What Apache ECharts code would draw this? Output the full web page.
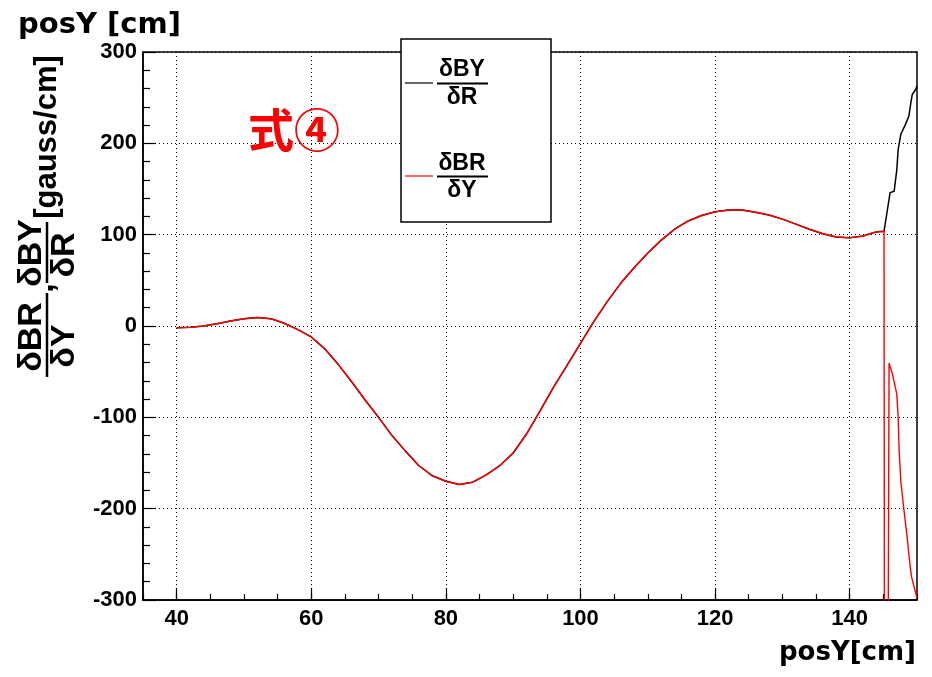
<!DOCTYPE html>
<html>
<head>
<meta charset="utf-8">
<script src="https://cdn.jsdelivr.net/npm/echarts@6/dist/echarts.min.js"></script>
<style>
  html, body { margin: 0; padding: 0; background: #fff; }
  #main { width: 932px; height: 677px; }
</style>
</head>
<body>
<div id="main"></div>
<script>
// both curves lie on top of each other up to ~145 cm
var posYCommon = [40, 42, 44, 46, 48, 50, 52, 54, 56, 58, 60, 62, 64, 66, 68, 70, 72, 74, 76, 78, 80, 82, 84, 86, 88, 90, 92, 94, 96, 98, 100, 102, 104, 106, 108, 110, 112, 114, 116, 118, 120, 122, 124, 126, 128, 130, 132, 134, 136, 138, 140, 142, 143.4, 144.5, 145.1];
var fieldCommon = [-2, -1.5, 0, 2.5, 5.5, 8, 9.3, 8, 3, -4, -12, -25, -42, -61, -81, -100, -120, -137, -153, -164, -170, -173.5, -171, -163, -153, -139, -118, -93, -67, -43, -19, 5, 27, 47, 64, 80, 94, 106, 115, 121, 125, 127, 127, 124.5, 121.5, 117, 111.5, 106, 101, 97.5, 96.5, 98.5, 102, 103.5, 103.5];

// dBY/dR end (black)
var posYTailBY = [145.2, 145.6, 146.0, 146.6, 147.0, 147.2, 147.6, 148.3, 148.8, 149.1, 149.3, 149.8, 150];
var dBYdRTail = [104, 127, 146, 147.5, 171, 193, 210, 221, 230, 245, 253.5, 259, 263];

// dBR/dY end (red), drops far below the frame and comes back
var posYTailBR = [145.2, 145.6, 145.85, 146.35, 147.0, 147.2, 147.35, 147.6, 148.0, 148.5, 149.0, 149.2, 150];
var dBRdYTail = [-600, -600, -40.6, -52.7, -74.6, -100, -137, -170, -197.6, -229, -264.5, -275, -298];

var xLabels = [40, 60, 80, 100, 120, 140];

function pairs(xs, ys) {
  var out = [];
  for (var i = 0; i < xs.length; i++) out.push([xs[i], ys[i]]);
  return out;
}

var blackData = pairs(posYCommon, fieldCommon).concat(pairs(posYTailBY, dBYdRTail));
var redData = pairs(posYCommon, fieldCommon).concat(pairs(posYTailBR, dBRdYTail));

var chart = echarts.init(document.getElementById('main'));
var tickFont = { fontSize: 22, fontWeight: 'bold', fontFamily: 'Liberation Sans', color: '#000' };
var titleFont = 'DejaVu Sans';
var fracFont = 'Liberation Sans';

var option = {
  animation: false,
  backgroundColor: '#fff',
  grid: { left: 143, right: 15, top: 52, bottom: 77, show: true, borderColor: '#000', borderWidth: 1.5 },
  xAxis: [{
    type: 'value', min: 35, max: 150,
    axisLine: { show: true, onZero: false, lineStyle: { color: '#000', width: 1.5 } },
    axisTick: { show: true, inside: true, length: 12, customValues: xLabels, lineStyle: { color: '#000', width: 1.2 } },
    axisLabel: Object.assign({ customValues: xLabels, margin: 8 }, tickFont),
    splitLine: { show: true, lineStyle: { color: '#000', type: [1, 3], width: 1 } }
  }, {
    type: 'value', min: 35, max: 150, interval: 5, position: 'bottom',
    axisLine: { show: false, onZero: false },
    axisTick: { show: true, inside: true, length: 6, lineStyle: { color: '#000', width: 1.2 } },
    axisLabel: { show: false },
    splitLine: { show: false }
  }],
  yAxis: {
    type: 'value', min: -300, max: 300, interval: 100,
    axisLine: { show: true, onZero: false, lineStyle: { color: '#000', width: 1.5 } },
    axisTick: { show: true, inside: true, length: 13, lineStyle: { color: '#000', width: 1.2 } },
    minorTick: { show: true, splitNumber: 5, length: 7, lineStyle: { color: '#000', width: 1.2 } },
    axisLabel: Object.assign({ margin: 6 }, tickFont),
    splitLine: { show: true, lineStyle: { color: '#000', type: [1, 3], width: 1 } }
  },
  series: [{
    name: 'dBY/dR', type: 'line', data: blackData, showSymbol: false,
    lineStyle: { color: '#000', width: 1.5 }, z: 2
  }, {
    name: 'dBR/dY', type: 'line', data: redData, showSymbol: false,
    lineStyle: { color: '#ff0000', width: 1.4 }, z: 3
  }],
  graphic: [
    { type: 'text', left: 18, top: 11, style: { text: 'posY [cm]', fontSize: 29, fontWeight: 'bold', fontFamily: titleFont, fill: '#000' } },
    { type: 'text', x: 916, y: 653, style: { text: 'posY[cm]', fontSize: 26, fontWeight: 'bold', fontFamily: titleFont, fill: '#000', textAlign: 'right', textVerticalAlign: 'middle' } },
    { type: 'text', x: 294, y: 130, z: 10, style: { text: '式④', fontSize: 46, fontWeight: 'bold', fontFamily: 'Noto Sans CJK SC', fill: '#ff0000', textAlign: 'center', textVerticalAlign: 'middle' } },
    // y axis title, rotated to read bottom-to-top
    {
      type: 'group', x: 0, y: 377, rotation: Math.PI / 2, z: 10,
      children: [
        { type: 'text', x: 40, y: 32, style: { text: 'δBR', fontSize: 34, fontWeight: 'bold', fontFamily: fracFont, fill: '#000', textAlign: 'center', textVerticalAlign: 'middle' } },
        { type: 'line', shape: { x1: 0, y1: 47, x2: 84, y2: 47 }, style: { stroke: '#000', lineWidth: 2.5 } },
        { type: 'text', x: 31, y: 65, style: { text: 'δY', fontSize: 34, fontWeight: 'bold', fontFamily: fracFont, fill: '#000', textAlign: 'center', textVerticalAlign: 'middle' } },
        { type: 'text', x: 89, y: 44, style: { text: ',', fontSize: 34, fontWeight: 'bold', fontFamily: fracFont, fill: '#000', textAlign: 'center', textVerticalAlign: 'middle' } },
        { type: 'text', x: 124, y: 32, style: { text: 'δBY', fontSize: 34, fontWeight: 'bold', fontFamily: fracFont, fill: '#000', textAlign: 'center', textVerticalAlign: 'middle' } },
        { type: 'line', shape: { x1: 94, y1: 47, x2: 155, y2: 47 }, style: { stroke: '#000', lineWidth: 2.5 } },
        { type: 'text', x: 122, y: 65, style: { text: 'δR', fontSize: 34, fontWeight: 'bold', fontFamily: fracFont, fill: '#000', textAlign: 'center', textVerticalAlign: 'middle' } },
        { type: 'text', x: 240, y: 47, style: { text: '[gauss/cm]', fontSize: 31, fontWeight: 'bold', fontFamily: fracFont, fill: '#000', textAlign: 'center', textVerticalAlign: 'middle' } }
      ]
    },
    // legend box
    { type: 'rect', z: 20, shape: { x: 401, y: 39, width: 150, height: 183 }, style: { fill: '#fff', stroke: '#000', lineWidth: 1.5 } },
    { type: 'line', z: 21, shape: { x1: 405, y1: 83, x2: 433, y2: 83 }, style: { stroke: '#000', lineWidth: 1.2 } },
    { type: 'text', z: 21, x: 462, y: 70, style: { text: 'δBY', fontSize: 23, fontWeight: 'bold', fontFamily: fracFont, fill: '#000', textAlign: 'center', textVerticalAlign: 'middle' } },
    { type: 'line', z: 21, shape: { x1: 437, y1: 83.5, x2: 488, y2: 83.5 }, style: { stroke: '#000', lineWidth: 2 } },
    { type: 'text', z: 21, x: 462, y: 98, style: { text: 'δR', fontSize: 23, fontWeight: 'bold', fontFamily: fracFont, fill: '#000', textAlign: 'center', textVerticalAlign: 'middle' } },
    { type: 'line', z: 21, shape: { x1: 405, y1: 176, x2: 433, y2: 176 }, style: { stroke: '#ff0000', lineWidth: 1.2 } },
    { type: 'text', z: 21, x: 462, y: 164, style: { text: 'δBR', fontSize: 23, fontWeight: 'bold', fontFamily: fracFont, fill: '#000', textAlign: 'center', textVerticalAlign: 'middle' } },
    { type: 'line', z: 21, shape: { x1: 437, y1: 176.5, x2: 488, y2: 176.5 }, style: { stroke: '#000', lineWidth: 2 } },
    { type: 'text', z: 21, x: 462, y: 191, style: { text: 'δY', fontSize: 23, fontWeight: 'bold', fontFamily: fracFont, fill: '#000', textAlign: 'center', textVerticalAlign: 'middle' } }
  ]
};

chart.setOption(option);
</script>
</body>
</html>
